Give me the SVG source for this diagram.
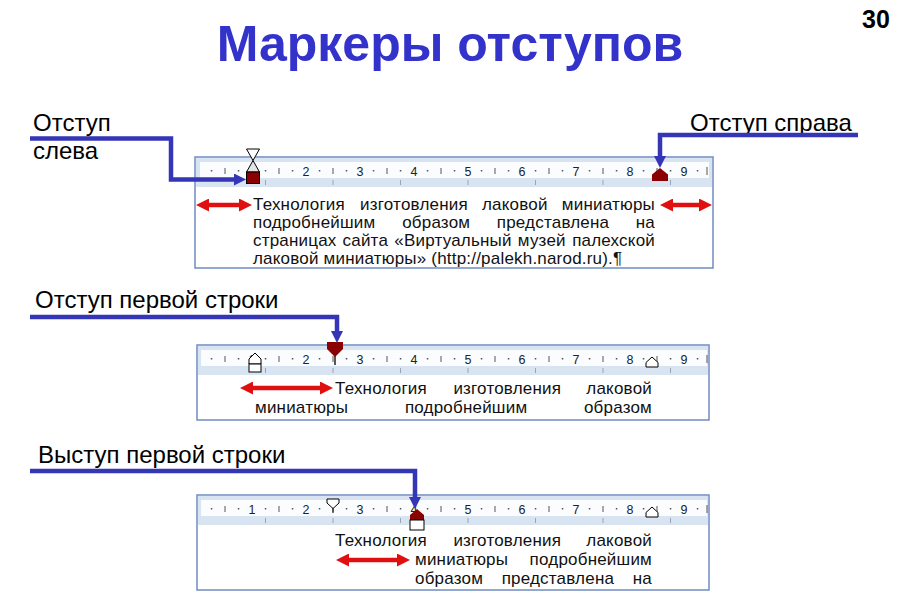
<svg xmlns="http://www.w3.org/2000/svg" xmlns:xlink="http://www.w3.org/1999/xlink" width="900" height="600" viewBox="0 0 900 600">
<style>
.title{font-family:"Liberation Sans",Arial,sans-serif;font-weight:bold;font-size:50px;fill:#3333cc}
.num{font-family:"Liberation Sans",Arial,sans-serif;font-weight:bold;font-size:25px;fill:#000}
.lbl{font-family:"Liberation Sans",Arial,sans-serif;font-size:24px;fill:#000}
.tx{font-family:"Liberation Sans",Arial,sans-serif;font-size:17px;letter-spacing:0.2px;fill:#111}
.rn{font-family:"Liberation Sans",Arial,sans-serif;font-size:12.5px;fill:#222;text-anchor:middle}
.box{fill:#fff;stroke:#6f8cc0;stroke-width:1.5}
.rband{fill:#d9e4f3}
.rwhite{fill:#fbfcfe}
.dot{fill:#555}
.bar{stroke:#555;stroke-width:1}
.tab{stroke:#9aa4b4;stroke-width:1}
.conn{fill:none;stroke:#3535b8;stroke-width:4.5;stroke-linejoin:miter}
.red{stroke:#e01010;stroke-width:4.5;fill:none}
.mk{stroke:#000;stroke-width:1}
.sel{fill:#8b0000}
.wht{fill:#fff}
.gry{fill:#e4e4e4}
.m{text-anchor:middle}
.e{text-anchor:end}
</style>
<defs>
<marker id="bh" viewBox="0 0 12 12" refX="0" refY="6" markerWidth="12" markerHeight="12" markerUnits="userSpaceOnUse" orient="auto">
<path d="M0,0 L12,6 L0,12 z" fill="#3535b8"/>
</marker>
<marker id="rh" viewBox="0 0 13 13" refX="0" refY="6.5" markerWidth="13" markerHeight="13" markerUnits="userSpaceOnUse" orient="auto-start-reverse">
<path d="M0,0 L13,6.5 L0,13 z" fill="#e01010"/>
</marker>
<g id="ticks">
<rect class="dot" x="210.8" y="13" width="1.5" height="1.5"/><line class="bar" x1="225" y1="11" x2="225" y2="17"/><rect class="dot" x="237.8" y="13" width="1.5" height="1.5"/><text class="rn" x="252" y="18.5">1</text>
<rect class="dot" x="264.8" y="13" width="1.5" height="1.5"/><line class="bar" x1="279" y1="11" x2="279" y2="17"/><rect class="dot" x="291.8" y="13" width="1.5" height="1.5"/><text class="rn" x="306" y="18.5">2</text>
<rect class="dot" x="318.8" y="13" width="1.5" height="1.5"/><line class="bar" x1="333" y1="11" x2="333" y2="17"/><rect class="dot" x="345.8" y="13" width="1.5" height="1.5"/><text class="rn" x="360" y="18.5">3</text>
<rect class="dot" x="372.8" y="13" width="1.5" height="1.5"/><line class="bar" x1="387" y1="11" x2="387" y2="17"/><rect class="dot" x="399.8" y="13" width="1.5" height="1.5"/><text class="rn" x="414" y="18.5">4</text>
<rect class="dot" x="426.8" y="13" width="1.5" height="1.5"/><line class="bar" x1="441" y1="11" x2="441" y2="17"/><rect class="dot" x="453.8" y="13" width="1.5" height="1.5"/><text class="rn" x="468" y="18.5">5</text>
<rect class="dot" x="480.8" y="13" width="1.5" height="1.5"/><line class="bar" x1="495" y1="11" x2="495" y2="17"/><rect class="dot" x="507.8" y="13" width="1.5" height="1.5"/><text class="rn" x="522" y="18.5">6</text>
<rect class="dot" x="534.8" y="13" width="1.5" height="1.5"/><line class="bar" x1="549" y1="11" x2="549" y2="17"/><rect class="dot" x="561.8" y="13" width="1.5" height="1.5"/><text class="rn" x="576" y="18.5">7</text>
<rect class="dot" x="588.8" y="13" width="1.5" height="1.5"/><line class="bar" x1="603" y1="11" x2="603" y2="17"/><rect class="dot" x="615.8" y="13" width="1.5" height="1.5"/><text class="rn" x="630" y="18.5">8</text>
<rect class="dot" x="642.8" y="13" width="1.5" height="1.5"/><line class="bar" x1="657" y1="11" x2="657" y2="17"/><rect class="dot" x="669.8" y="13" width="1.5" height="1.5"/><text class="rn" x="684" y="18.5">9</text>
<rect class="dot" x="696.8" y="13" width="1.5" height="1.5"/><line class="bar" x1="707" y1="10" x2="707" y2="18"/>
<line class="tab" x1="265.5" y1="23" x2="265.5" y2="28"/><line class="tab" x1="333" y1="23" x2="333" y2="28"/><line class="tab" x1="400.5" y1="23" x2="400.5" y2="28"/><line class="tab" x1="468" y1="23" x2="468" y2="28"/><line class="tab" x1="535.5" y1="23" x2="535.5" y2="28"/><line class="tab" x1="603" y1="23" x2="603" y2="28"/><line class="tab" x1="670.5" y1="23" x2="670.5" y2="28"/>
</g>
</defs>

<text class="title" x="450" y="61" text-anchor="middle">Маркеры отступов</text>
<text class="num" x="876" y="28" text-anchor="middle">30</text>

<g id="panel1">
<rect class="box" x="195" y="157" width="518" height="111"/>
<rect class="rband" x="196" y="158" width="516" height="29"/>
<rect class="rwhite" x="200" y="162" width="509" height="16"/>
<use xlink:href="#ticks" y="157"/>
<text class="tx" x="253" y="210">Технология</text><text class="tx m" x="414" y="210">изготовления</text><text class="tx m" x="514.8" y="210">лаковой</text><text class="tx e" x="655" y="210">миниатюры</text>
<text class="tx" x="253" y="228">подробнейшим</text><text class="tx m" x="436.2" y="228">образом</text><text class="tx m" x="553" y="228">представлена</text><text class="tx e" x="655" y="228">на</text>
<text class="tx" x="253" y="246">страницах</text><text class="tx m" x="365.3" y="246">сайта</text><text class="tx m" x="453" y="246">«Виртуальный</text><text class="tx m" x="541.8" y="246">музей</text><text class="tx e" x="655" y="246">палехской</text>
<text class="tx" x="253" y="264">лаковой миниатюры» (http://palekh.narod.ru).¶</text>
</g>
<g id="marker-left-indent">
<polygon class="mk wht" points="246.5,149 259.5,149 253,160.5"/>
<polygon class="mk gry" points="253,160.5 259.5,172 246.5,172"/>
<rect class="mk sel" x="246.5" y="172" width="13" height="11.5"/>
</g>
<g id="marker-right-indent">
<polygon class="sel" points="660,168 668,174.5 668,181 652,181 652,174.5"/>
</g>

<g id="panel2">
<rect class="box" x="197" y="345" width="512" height="75"/>
<rect class="rband" x="198" y="346" width="510" height="29"/>
<rect class="rwhite" x="201" y="350" width="506" height="16"/>
<use xlink:href="#ticks" y="345"/>
<text class="tx" x="335" y="394">Технология</text><text class="tx m" x="507.3" y="394">изготовления</text><text class="tx e" x="652" y="394">лаковой</text>
<text class="tx" x="255" y="413">миниатюры</text><text class="tx m" x="466.1" y="413">подробнейшим</text><text class="tx e" x="652" y="413">образом</text>
</g>
<g id="marker-first-line">
<line x1="335" y1="355" x2="335" y2="365" stroke="#222" stroke-width="1.5"/>
<polygon class="sel" points="327,342 343,342 343,349 335,357 327,349"/>
</g>
<g id="marker-hanging-2">
<polygon class="mk wht" points="255,353 261,359 261,364 249,364 249,359"/>
<rect class="mk wht" x="249" y="364" width="12" height="8"/>
</g>
<g id="marker-right-2">
<polygon class="mk wht" points="652,357 658,362.5 658,367 646,367 646,362.5"/>
</g>

<g id="panel3">
<rect class="box" x="197" y="495" width="512" height="95"/>
<rect class="rband" x="198" y="496" width="510" height="29"/>
<rect class="rwhite" x="201" y="500" width="506" height="16"/>
<use xlink:href="#ticks" y="495"/>
<text class="tx" x="335" y="546">Технология</text><text class="tx m" x="507.3" y="546">изготовления</text><text class="tx e" x="652" y="546">лаковой</text>
<text class="tx" x="415" y="565">миниатюры</text><text class="tx e" x="652" y="565">подробнейшим</text>
<text class="tx" x="415" y="584">образом</text><text class="tx m" x="557.9" y="584">представлена</text><text class="tx e" x="652" y="584">на</text>
</g>
<g id="marker-first-line-3">
<line x1="333" y1="508" x2="333" y2="513" stroke="#222" stroke-width="1.2"/>
<polygon class="mk wht" points="327,499 339,499 339,503 333,508.5 327,503"/>
</g>
<g id="marker-hanging-3">
<polygon class="sel" points="417,509 424,515 424,520 410,520 410,515"/>
<rect class="mk wht" x="410" y="520" width="14" height="10"/>
</g>
<g id="marker-right-3">
<polygon class="mk wht" points="652,507 658,512.5 658,517 646,517 646,512.5"/>
</g>

<g id="labels">
<text class="lbl" x="33" y="131">Отступ</text>
<text class="lbl" x="33" y="159">слева</text>
<text class="lbl" x="690" y="131">Отступ справа</text>
<text class="lbl" x="35" y="308">Отступ первой строки</text>
<text class="lbl" x="38" y="463">Выступ первой строки</text>
</g>

<g id="connectors">
<path class="conn" d="M30,138.5 H171 V179.5 H234" marker-end="url(#bh)"/>
<path class="conn" d="M858,135 H660 V156" marker-end="url(#bh)"/>
<path class="conn" d="M30,317 H337 V331" marker-end="url(#bh)"/>
<path class="conn" d="M30,471 H415 V497" marker-end="url(#bh)"/>
<line class="red" x1="209" y1="205" x2="239" y2="205" marker-start="url(#rh)" marker-end="url(#rh)"/>
<line class="red" x1="673" y1="205" x2="699" y2="205" marker-start="url(#rh)" marker-end="url(#rh)"/>
<line class="red" x1="253" y1="388" x2="320" y2="388" marker-start="url(#rh)" marker-end="url(#rh)"/>
<line class="red" x1="349" y1="560" x2="397" y2="560" marker-start="url(#rh)" marker-end="url(#rh)"/>
</g>
</svg>
